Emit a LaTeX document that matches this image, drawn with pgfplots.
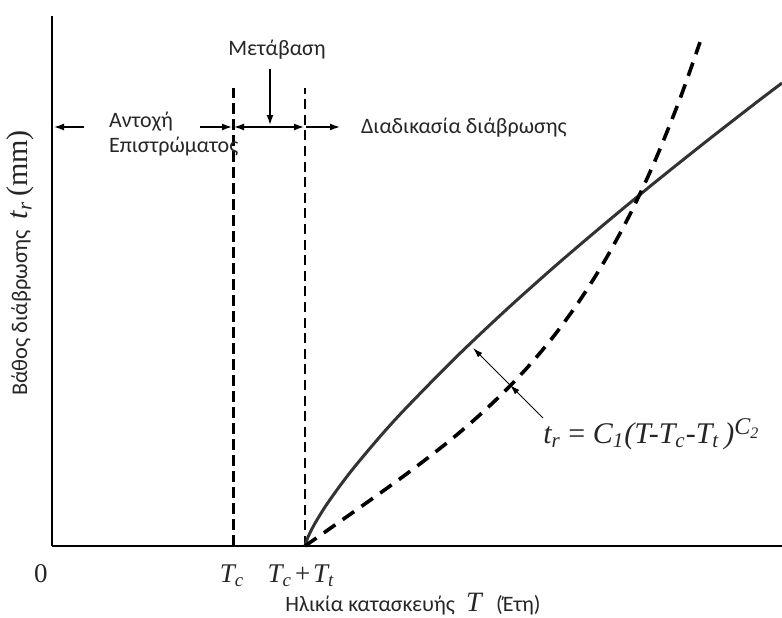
\documentclass[border=0pt]{standalone}
\usepackage{fontspec}
\setmainfont{Carlito}
\newfontfamily\tms{Liberation Serif}
\usepackage{pgfplots}
\pgfplotsset{compat=1.18}
\usetikzlibrary{arrows.meta}
\definecolor{curve}{HTML}{333333}
\definecolor{txt}{HTML}{262626}

\begin{document}
\begin{tikzpicture}
\path[use as bounding box] (-26pt,-35.5pt) rectangle (365pt,273pt);
\begin{axis}[
  x=0.5pt, y=0.5pt,
  xmin=52, xmax=782, ymin=71, ymax=601,
  enlargelimits=false,
  axis x line=bottom, axis y line=left,
  axis line style={-, line width=1.4pt},
  xtick=\empty, ytick=\empty,
  clip=false,
  anchor=south west, at={(0,0)},
  every axis plot/.append style={no marks},
]
% phase boundaries T_c and T_c+T_t
\addplot[black, line width=1.5pt, dash pattern=on 5.5pt off 2.5pt] coordinates {(233,71) (233,529)};
\addplot[black, line width=0.7pt, dash pattern=on 5pt off 2.8pt] coordinates {(305,71) (305,529)};

% corrosion depth, concave branch
\addplot[curve, line width=1.5pt, smooth] coordinates {
  (305,71) (307,77.5) (310,84.2) (315,93.7) (325,110) (340,131.3)
  (355,150.7) (380,180.4) (405,207.9) (455,258.8) (505,306.1)
  (555,350.8) (605,393.4) (655,434.7) (705,474.6) (755,513.5) (782,534)
};
% corrosion depth, convex branch
\addplot[black, line width=1.8pt, smooth, dash pattern=on 7pt off 4.5pt] coordinates {
  (305,71) (330,88.5) (355,106.1) (380,123.8) (405,141.9) (430,160.8)
  (455,180.7) (480,202.3) (505,226) (530,252.4) (555,282.5) (580,316.9)
  (605,356.7) (630,402.7) (655,456.2) (680,518.3) (700,574.9)
};

% phase arrows
\begin{scope}[line width=0.7pt, arr/.style={-{Latex[length=5pt,width=3.5pt]}}]
  \draw[arr] (axis cs:84,490) -- (axis cs:54,490);
  \draw[arr] (axis cs:200,490) -- (axis cs:232,490);
  \draw[{Latex[length=5pt,width=3.5pt]}-{Latex[length=5pt,width=3.5pt]}] (axis cs:234,490) -- (axis cs:304,490);
  \draw[arr] (axis cs:306,490) -- (axis cs:340,490);
  \draw[arr] (axis cs:270,548) -- (axis cs:270,492);
\end{scope}

\begin{scope}[every node/.style={text=txt, font=\fontsize{11}{13}\selectfont}]
\node at (axis cs:277,567) {Μετάβαση};
\node[anchor=west] at (axis cs:102,495) {Αντοχή};
\node[anchor=west] at (axis cs:102,470) {Επιστρώματος};
\node[anchor=west] at (axis cs:354,489) {Διαδικασία διάβρωσης};
\end{scope}

% formula with leader arrows
\begin{scope}[line width=0.5pt, arr/.style={-{Latex[length=5pt,width=3pt]}}]
  \draw[arr] (axis cs:543,199) -- (axis cs:510,232);
  \draw[arr] (axis cs:510,232) -- (axis cs:473,269);
\end{scope}
\node[font=\tms\fontsize{15}{17}\selectfont, anchor=base west, inner sep=0pt, text=txt] at (axis cs:543,174)
  {\itshape t\textsubscript{r} \upshape= \itshape C\textsubscript{1}(T-T\textsubscript{c}-T\textsubscript{t}\,)\raisebox{0.28em}{\fontsize{12}{13}\selectfont C\textsubscript{2}}};

% axis annotations
\begin{scope}[every node/.style={anchor=base, text=txt, font=\tms\fontsize{13.5}{15}\selectfont}]
\node at (axis cs:41,35) {0};
\node at (axis cs:232,35) {\itshape T\textsubscript{c}};
\node at (axis cs:301,35) {\itshape T\textsubscript{c}\kern0.05em+\kern0.05em T\textsubscript{t}};
\end{scope}
\node[font=\fontsize{11}{13}\selectfont, text=txt, anchor=base, inner sep=0pt] at (axis cs:413,6)
  {Ηλικία κατασκευής\enspace{\tms\itshape\fontsize{14}{15}\selectfont T}\enspace\,(Έτη)};
\node[rotate=90, font=\fontsize{11.2}{13}\selectfont, text=txt] at (axis cs:20,354)
  {Βάθος διάβρωσης\enspace{\tms\fontsize{15}{16}\selectfont\itshape t\textsubscript{r}\upshape\,(mm)}};
\end{axis}
\end{tikzpicture}
\end{document}
